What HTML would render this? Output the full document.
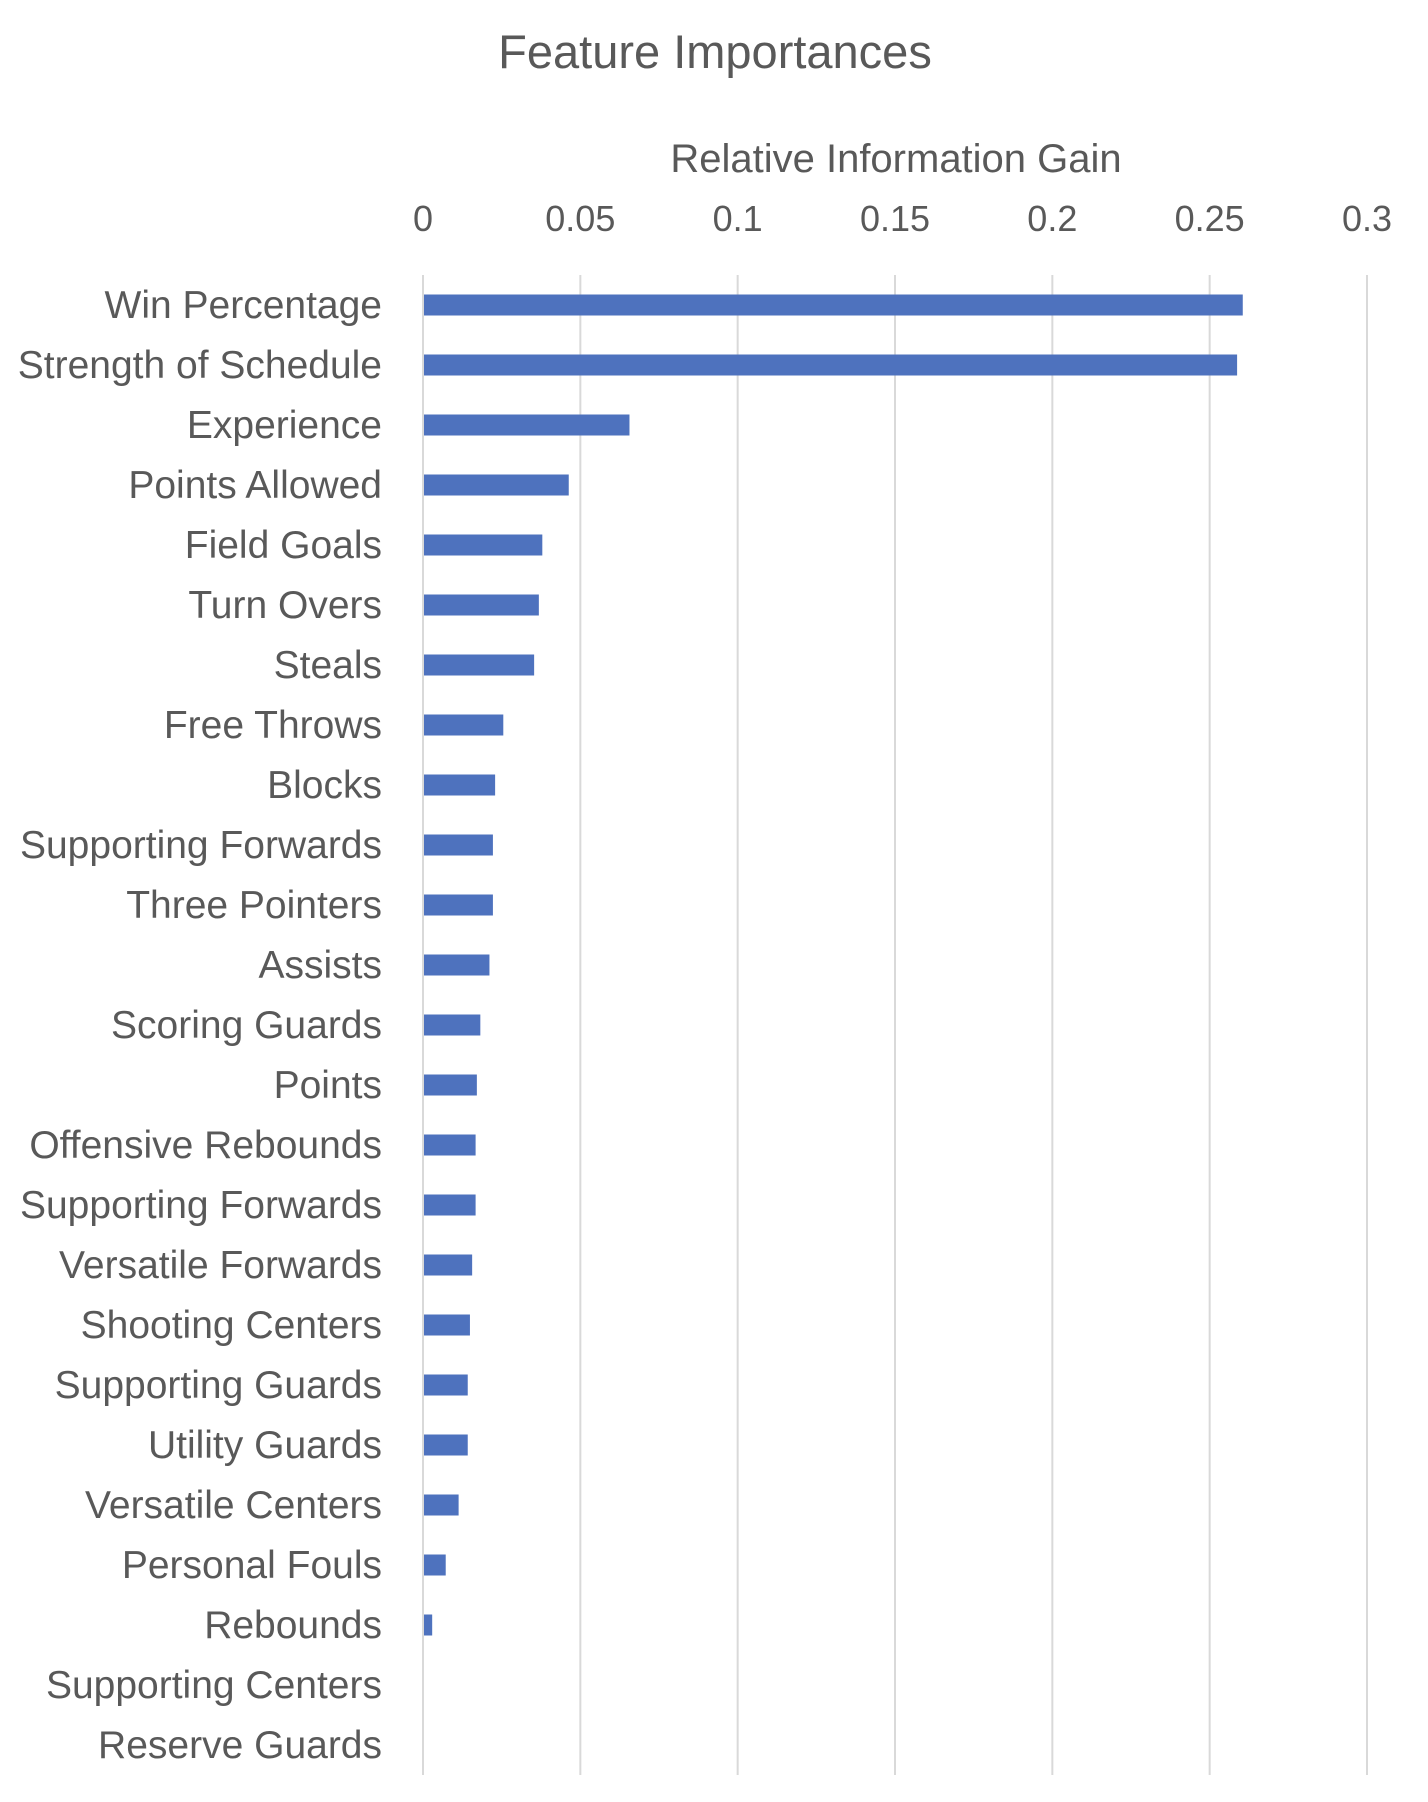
<!DOCTYPE html>
<html><head><meta charset="utf-8"><style>
html,body{margin:0;padding:0;background:#fff;}
svg{display:block;font-family:"Liberation Sans",sans-serif;}
</style></head><body>
<svg id="chart" width="1428" height="1802" viewBox="0 0 1428 1802" xmlns="http://www.w3.org/2000/svg">
<text x="715" y="68" text-anchor="middle" font-size="47" fill="#595959">Feature Importances</text>
<text x="896" y="172" text-anchor="middle" font-size="40" fill="#595959">Relative Information Gain</text>
<g id="grid"></g><g id="ticks"></g><g id="bars"></g><g id="labels"></g>
</svg>
<script>
const categories=["Win Percentage","Strength of Schedule","Experience","Points Allowed","Field Goals","Turn Overs","Steals","Free Throws","Blocks","Supporting Forwards","Three Pointers","Assists","Scoring Guards","Points","Offensive Rebounds","Supporting Forwards","Versatile Forwards","Shooting Centers","Supporting Guards","Utility Guards","Versatile Centers","Personal Fouls","Rebounds","Supporting Centers","Reserve Guards"];
const values=[0.2602,0.2584,0.0653,0.046,0.0376,0.0365,0.035,0.0252,0.0226,0.0219,0.0219,0.0208,0.0179,0.0168,0.0164,0.0164,0.0153,0.0146,0.0139,0.0139,0.011,0.0069,0.0026,0,0];
const tickValues=[0,0.05,0.1,0.15,0.2,0.25,0.3];
const tickLabels=["0","0.05","0.1","0.15","0.2","0.25","0.3"];
const NS="http://www.w3.org/2000/svg";
const x0=423,x1=1367,xmax=0.3;
const xs=v=>x0+(v/xmax)*(x1-x0);
const rowTop=275,rowH=60;
const yc=i=>rowTop+rowH*(i+0.5);
function mk(tag,attrs,parent){const e=document.createElementNS(NS,tag);for(const k in attrs)e.setAttribute(k,attrs[k]);document.getElementById(parent).appendChild(e);return e;}
tickValues.forEach((t,i)=>{
  const l=mk('line',{x1:xs(t),x2:xs(t),y1:275,y2:1775,stroke:'#d9d9d9','stroke-width':2},'grid');
  
  
  const tx=mk('text',{x:xs(t),y:231,'text-anchor':'middle','font-size':36,fill:'#595959'},'ticks');
  tx.textContent=tickLabels[i];
  
  
});
categories.forEach((c,i)=>{
  const y=yc(i);
  if(values[i]>0){
    const r=mk('rect',{x:xs(0)+1,y:y-10.5,width:xs(values[i])-xs(0),height:21,fill:'#4e72be'},'bars');
    
    
  }
  const t=mk('text',{x:382,y:y+13,'text-anchor':'end','font-size':39,fill:'#595959'},'labels');
  t.textContent=c;
  
  
});
</script>
</body></html>
